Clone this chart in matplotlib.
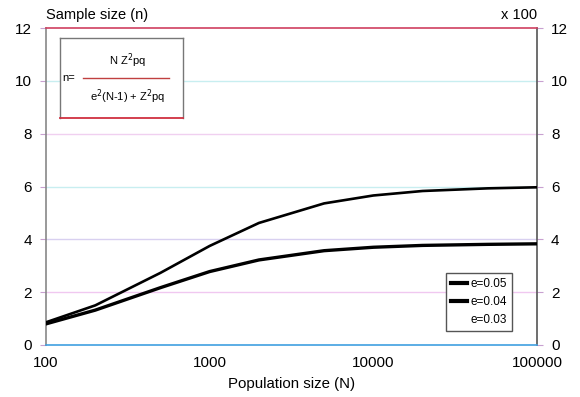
import matplotlib
matplotlib.use("Agg")
import matplotlib.pyplot as plt
from matplotlib.lines import Line2D

plt.rcParams['font.family'] = ['Liberation Sans', 'DejaVu Sans']

population = [100, 200, 500, 1000, 2000, 5000, 10000, 20000, 50000, 100000]
n_e005 = [0.80, 1.32, 2.17, 2.78, 3.22, 3.57, 3.70, 3.77, 3.81, 3.83]
n_e004 = [0.86, 1.50, 2.73, 3.75, 4.62, 5.36, 5.66, 5.83, 5.93, 5.97]
legend_labels = ['e=0.05', 'e=0.04', 'e=0.03']
y_ticks = [0, 2, 4, 6, 8, 10, 12]
x_ticks = [100, 1000, 10000, 100000]
x_ticklabels = ['100', '1000', '10000', '100000']

fig = plt.figure(figsize=(5.8, 3.97), dpi=100)
W, H = 580, 397
ax = fig.add_axes([46 / W, 1 - 345 / H, (537 - 46) / W, (345 - 28) / H])

grid_colors = ['#f0c8f0', '#d8d0f0', '#c8eef0', '#f0d0f0', '#c8eef0']
for yv, c in zip(y_ticks[1:-1], grid_colors):
    ax.axhline(yv, color=c, lw=1.0, zorder=1)

ax.plot(population, n_e005, color='black', lw=2.4, zorder=3, solid_joinstyle='round')
ax.plot(population, n_e004, color='black', lw=1.9, zorder=3, solid_joinstyle='round')

ax.set_xscale('log')
ax.set_xlim(100, 100000)
ax.set_ylim(0, 12)
ax.set_xticks(x_ticks)
ax.set_xticklabels(x_ticklabels)
ax.minorticks_off()
ax.set_yticks(y_ticks)
ax.tick_params(axis='both', labelsize=11, length=4, color='#c8a0d0')
ax.tick_params(axis='y', right=True, labelright=True, pad=6)
ax.tick_params(axis='x', length=0, pad=8)

ax.spines['left'].set_color('#888888')
ax.spines['right'].set_color('#555555')
ax.spines['top'].set_color('#d04060')
ax.spines['bottom'].set_color('#40a0e0')
for s in ax.spines.values():
    s.set_linewidth(1.2)

fig.text(46 / W, 1 - 15 / H, 'Sample size (n)', fontsize=10.5, va='center', ha='left')
fig.text(537 / W, 1 - 15 / H, 'x 100', fontsize=10.5, va='center', ha='right')
fig.text(292 / W, 1 - 384 / H, 'Population size (N)', fontsize=10.8, va='center', ha='center')

# formula box
box = ax.inset_axes([(60 - 46) / 491, (345 - 118) / 317, (183 - 60) / 491, (118 - 38) / 317])
box.set_xticks([]); box.set_yticks([])
box.set_xlim(0, 1); box.set_ylim(0, 1)
for s in box.spines.values():
    s.set_color('#777777'); s.set_linewidth(1.0)
box.spines['bottom'].set_color('#d03040')
box.spines['bottom'].set_linewidth(1.3)
box.text(0.02, 0.5, 'n=', fontsize=8, va='center', ha='left')
box.plot([0.19, 0.89], [0.5, 0.5], color='#c04040', lw=1.0)
box.text(0.55, 0.71, r'N Z$^2$pq', fontsize=8, va='center', ha='center')
box.text(0.55, 0.27, r'e$^2$(N-1) + Z$^2$pq', fontsize=8, va='center', ha='center')

handles = [Line2D([], [], color='black', lw=3),
           Line2D([], [], color='black', lw=3),
           Line2D([], [], color='white', lw=3)]
leg = ax.legend(handles, legend_labels, loc='lower right', bbox_to_anchor=((512 - 46) / 491, (345 - 331) / 317),
                fontsize=8.5, handlelength=1.3, handletextpad=0.3, labelspacing=0.5,
                fancybox=False, framealpha=1, borderpad=0.45, borderaxespad=0)
for t in leg.get_texts():
    t.set_x(0)
leg.get_frame().set_edgecolor('#555555')
leg.get_frame().set_linewidth(1.0)
leg._legend_box.align = 'left'

fig.savefig('out.png', dpi=100)
